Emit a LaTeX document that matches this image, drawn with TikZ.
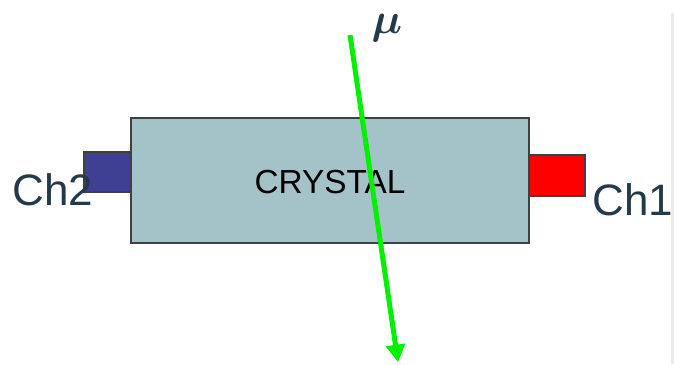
\documentclass[tikz,border=0pt]{standalone}
\usepackage{fontspec}
\usepackage{amsmath,bm}
\setmainfont{Liberation Sans}
\usetikzlibrary{arrows.meta,positioning}

\definecolor{crystalfill}{HTML}{A3C3C8}
\definecolor{chblue}{HTML}{3F3F94}
\definecolor{chred}{HTML}{FF0000}
\definecolor{labeltext}{HTML}{243A48}
\definecolor{muongreen}{HTML}{00F000}

\tikzset{
  block/.style={draw=black!75,line width=0.8pt,rectangle,inner sep=0pt},
  chlabel/.style={text=labeltext,font=\fontsize{33}{36}\selectfont,inner sep=0pt}
}

\begin{document}
\begin{tikzpicture}[x=0.75pt,y=-0.75pt]
\useasboundingbox (0,0) rectangle (674,364);
% thin rule at the right edge
\fill[black!8] (671,13) rectangle (674,364);
% crystal and the two readout channels
\node[block,fill=crystalfill,minimum width=298.5pt,minimum height=93.75pt] (crystal) at (330,180.5) {};
\node[block,fill=chblue,minimum width=35.25pt,minimum height=30pt] (ch2) at (107.5,172) {};
\node[block,fill=chred,minimum width=42pt,minimum height=30.75pt] (ch1) at (557,175.5) {};
\node[font=\fontsize{25}{28}\selectfont,inner sep=0pt,anchor=base] (name) at (330,193) {CRYSTAL};
\node[chlabel,anchor=base west] (ch2label) at (12,205) {Ch2};
\node[chlabel,anchor=base west] (ch1label) at (592,215) {Ch1};
% muon track
\node[text=labeltext,inner sep=0pt] (mu) at (387,28) {\scalebox{1.3}{\fontsize{24}{28}\selectfont$\bm{\mu}$}};
\coordinate (trackin) at (350,35);
\coordinate (trackout) at (398,362);
\draw[muongreen,line width=3.75pt,-{Triangle[length=13pt,width=14pt]}] (trackin) -- (trackout);
\end{tikzpicture}
\end{document}
